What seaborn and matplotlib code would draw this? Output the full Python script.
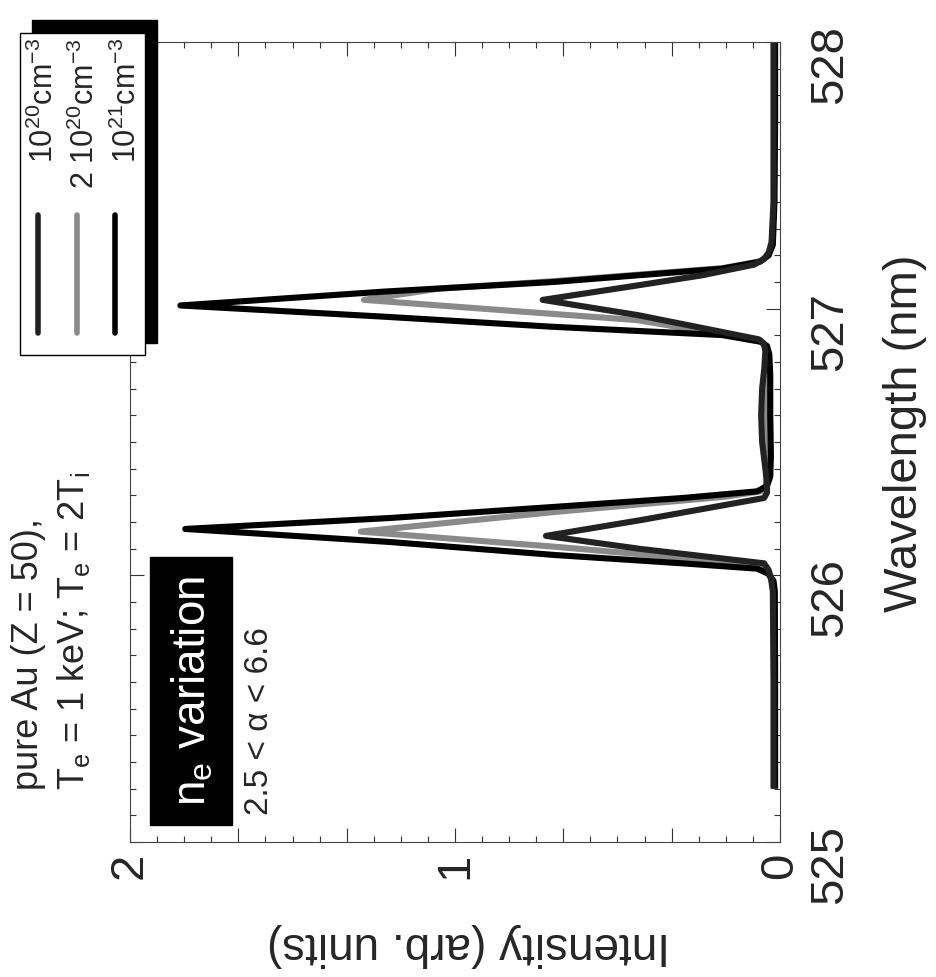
import matplotlib
matplotlib.use("Agg")
import matplotlib.pyplot as plt
from matplotlib.patches import Rectangle
from matplotlib.lines import Line2D
import seaborn as sns

# === Data (wavelength in nm, intensity in arb. units) ===
# n_e = 1e21 cm^-3 (tallest peaks)
wl_1e21 = [525.20, 525.60, 525.94, 525.98, 526.005, 526.025, 526.045, 526.076, 526.125, 526.174,
           526.215, 526.257, 526.29, 526.315, 526.335, 526.37, 526.45, 526.60, 526.75, 526.83,
           526.86, 526.876, 526.901, 526.932, 526.970, 527.012, 527.064, 527.100, 527.150, 527.176,
           527.20, 527.24, 527.40, 527.70, 528.00]
int_1e21 = [0.015, 0.015, 0.016, 0.02, 0.035, 0.07, 0.30, 0.69, 1.20, 1.83,
            1.20, 0.69, 0.30, 0.07, 0.04, 0.03, 0.028, 0.03, 0.03, 0.033,
            0.04, 0.06, 0.178, 0.698, 1.219, 1.845, 1.218, 0.698, 0.178, 0.062,
            0.035, 0.022, 0.017, 0.015, 0.015]

# n_e = 2e20 cm^-3 (grey, middle peaks)
wl_2e20 = [525.20, 525.60, 525.94, 525.98, 526.005, 526.03, 526.051, 526.107, 526.164, 526.238,
           526.295, 526.315, 526.335, 526.37, 526.45, 526.60, 526.75, 526.83, 526.86, 526.88,
           526.957, 526.994, 527.033, 527.075, 527.103, 527.152, 527.178, 527.20, 527.24, 527.40,
           527.70, 528.00]
int_2e20 = [0.018, 0.018, 0.02, 0.025, 0.035, 0.05, 0.167, 0.69, 1.29, 0.69,
            0.167, 0.06, 0.045, 0.038, 0.036, 0.04, 0.038, 0.04, 0.045, 0.06,
            0.44, 0.85, 1.28, 1.05, 0.698, 0.178, 0.06, 0.035, 0.024, 0.019,
            0.018, 0.018]

# n_e = 1e20 cm^-3 (lowest peaks)
wl_1e20 = [525.20, 525.60, 525.94, 525.99, 526.02, 526.045, 526.099, 526.148, 526.207, 526.29,
           526.31, 526.34, 526.40, 526.50, 526.60, 526.70, 526.78, 526.84, 526.87, 526.885,
           526.976, 527.033, 527.085, 527.125, 527.165, 527.185, 527.21, 527.25, 527.40, 527.70,
           528.00]
int_1e20 = [0.02, 0.02, 0.022, 0.028, 0.035, 0.049, 0.429, 0.72, 0.429, 0.049,
            0.04, 0.04, 0.045, 0.055, 0.058, 0.055, 0.048, 0.045, 0.05, 0.065,
            0.438, 0.73, 0.45, 0.24, 0.08, 0.05, 0.035, 0.026, 0.02, 0.02,
            0.02]

legend_labels = [r'10$^{20}$cm$^{-3}$', r'2 10$^{20}$cm$^{-3}$', r'10$^{21}$cm$^{-3}$']
curve_colors = ['#222222', '#8a8a8a', '#000000']

wl_ticks = [525, 526, 527, 528]
wl_ticklabels = ['525', '526', '527', '528']
int_ticks = [k / 3 for k in range(7)]
int_ticklabels = ['0', '', '', '1', '', '', '2']

# === Style ===
sns.set_style('ticks')
plt.rcParams['font.family'] = ['Liberation Sans', 'DejaVu Sans']
plt.rcParams['mathtext.fontset'] = 'custom'
plt.rcParams['mathtext.rm'] = 'Liberation Sans'
plt.rcParams['mathtext.it'] = 'Liberation Sans:italic'
plt.rcParams['mathtext.bf'] = 'Liberation Sans:bold'

W, H = 937, 977


def fx(px):
    return px / W


def fy(py):
    return 1 - py / H


fig = plt.figure(figsize=(W / 100, H / 100), dpi=100)
# whole figure is drawn turned by 90 degrees: wavelength runs upwards, intensity to the left
ax = fig.add_axes([fx(130), fy(842), 650 / W, 800 / H])

series = [(int_1e20, wl_1e20), (int_2e20, wl_2e20), (int_1e21, wl_1e21)]
for idx in [1, 2, 0]:
    xs, ys = series[idx]
    sns.lineplot(x=xs, y=ys, sort=False, estimator=None, color=curve_colors[idx],
                 lw=4.4, ax=ax, solid_joinstyle='round', solid_capstyle='butt')

ax.set_xlim(2, 0)
ax.set_ylim(525, 528)
ax.set_xlabel('')
ax.set_ylabel('')

ax.set_xticks(int_ticks)
ax.set_xticklabels(int_ticklabels)
ax.set_xticks([k / 12 for k in range(25)], minor=True)
ax.set_yticks(wl_ticks)
ax.set_yticklabels(wl_ticklabels)
ax.set_yticks([525 + k / 10 for k in range(31)], minor=True)

ax.tick_params(axis='x', which='both', direction='in', top=True, bottom=True,
               labelrotation=90, labelsize=34, pad=8, width=0.8, color='#333333')
ax.tick_params(axis='y', which='both', direction='in', left=True, right=True,
               labelleft=False, labelright=True, labelrotation=90, labelsize=34,
               pad=20, width=0.8, color='#333333')
ax.tick_params(which='major', length=10)
ax.tick_params(which='minor', length=4.5)
for sp in ax.spines.values():
    sp.set_linewidth(0.8)
    sp.set_color('#444444')

# axis titles
fig.text(fx(905), fy(433), 'Wavelength (nm)', rotation=90, ha='center', va='center', fontsize=34)
fig.text(fx(469), fy(945), 'Intensity (arb. units)', rotation=180, ha='center', va='center', fontsize=33)

# annotations
fig.text(fx(38), fy(790), 'pure Au (Z = 50),', rotation=90, rotation_mode='anchor',
         ha='left', va='baseline', fontsize=26)
fig.text(fx(84), fy(790), r'T$_\mathrm{e}$ = 1 keV; T$_\mathrm{e}$ = 2T$_\mathrm{i}$', rotation=90,
         rotation_mode='anchor', ha='left', va='baseline', fontsize=26)
fig.add_artist(Rectangle((fx(150), fy(825)), 82 / W, 268 / H, transform=fig.transFigure,
                         facecolor='black', edgecolor='black'))
fig.text(fx(193), fy(691), r'n$_\mathrm{e}$ variation', color='white', rotation=90,
         ha='center', va='center', fontsize=33)
fig.text(fx(268), fy(815), '2.5 < α < 6.6', rotation=90, rotation_mode='anchor',
         ha='left', va='baseline', fontsize=24)

# legend box with shadow (drawn by hand so it can be turned with the rest)
fig.add_artist(Rectangle((fx(32), fy(343)), 125 / W, 323 / H, transform=fig.transFigure,
                         facecolor='black', edgecolor='black'))
fig.add_artist(Rectangle((fx(20), fy(355)), 125 / W, 322 / H, transform=fig.transFigure,
                         facecolor='white', edgecolor='black', lw=1))
for x0, xt, lab, col in zip([38, 77, 115], [53, 94, 136], legend_labels, curve_colors):
    fig.add_artist(Line2D([fx(x0), fx(x0)], [fy(333), fy(215)], transform=fig.transFigure,
                          color=col, lw=4))
    fig.text(fx(xt), fy(38), lab, rotation=90, rotation_mode='anchor',
             ha='right', va='baseline', fontsize=22)

plt.savefig('out.png', dpi=100)
